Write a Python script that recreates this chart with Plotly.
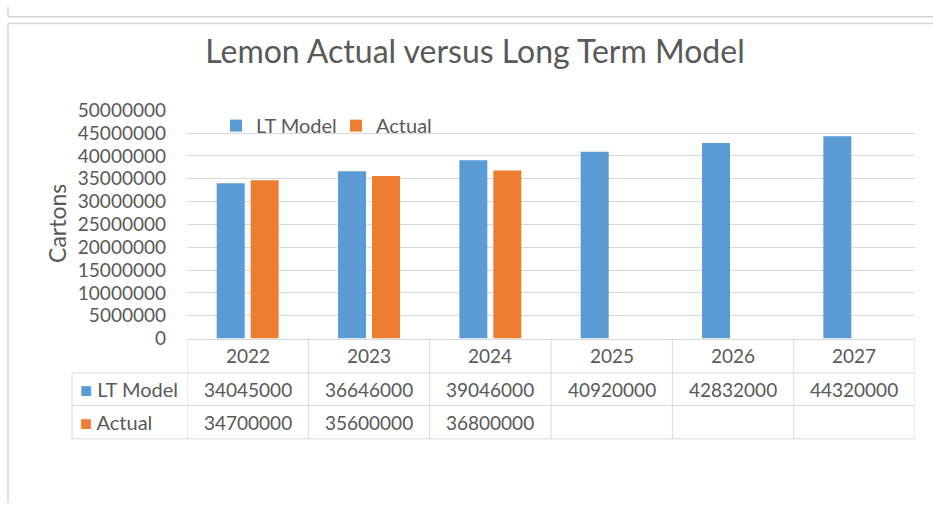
import plotly.graph_objects as go

# ---- data ----
years = ["2022", "2023", "2024", "2025", "2026", "2027"]
lt_model = [34045000, 36646000, 39046000, 40920000, 42832000, 44320000]
actual = [34700000, 35600000, 36800000, None, None, None]
y_ticks = [0, 5000000, 10000000, 15000000, 20000000, 25000000,
           30000000, 35000000, 40000000, 45000000, 50000000]

BLUE = "#5B9BD5"
ORANGE = "#ED7D31"
TXT = "#595959"
GRID = "#D9D9D9"
FONT = "Lato, 'Liberation Sans', Arial, sans-serif"

W, H = 933, 509
def px(x):
    return x / W
def py(y):
    return 1 - y / H

fig = go.Figure()
fig.add_trace(go.Bar(name="LT Model", x=years, y=lt_model, marker_color=BLUE,
                     marker_line_width=0))
fig.add_trace(go.Bar(name="Actual", x=years, y=actual, marker_color=ORANGE,
                     marker_line_width=0))

plot_left, plot_right = 187, 915
plot_top, plot_bottom = 103, 342
row1, row2, row3 = 378, 412, 447

fig.update_layout(
    width=W, height=H,
    margin=dict(l=0, r=0, t=0, b=0),
    paper_bgcolor="white", plot_bgcolor="white",
    font=dict(family=FONT, color=TXT, size=19),
    barmode="group", bargap=0.44, bargroupgap=0.176,
    showlegend=True,
    legend=dict(orientation="h", x=px(216), y=py(119), xanchor="left",
                yanchor="middle", bgcolor="rgba(0,0,0,0)",
                font=dict(size=20, color=TXT), itemwidth=30,
                entrywidth=75, entrywidthmode="pixels",
                traceorder="normal"),
    title=dict(text="Lemon Actual versus Long Term Model", x=px(475), xanchor="center",
               y=py(52), yanchor="middle", font=dict(size=32, color=TXT, family=FONT)),
    xaxis=dict(type="category", domain=[px(plot_left), px(plot_right)], range=[-0.5, 5.5],
               showticklabels=False, showgrid=False, zeroline=False,
               showline=True, linecolor=GRID, linewidth=1, ticks=""),
    yaxis=dict(domain=[py(plot_bottom), py(plot_top)], range=[0, 50000000],
               tickvals=y_ticks, ticktext=[str(v) for v in y_ticks],
               showgrid=True, gridcolor=GRID, gridwidth=1, zeroline=False,
               showline=False, ticks="", ticklabelstandoff=20,
               tickfont=dict(size=19, color=TXT)),
)

# y axis title
fig.add_annotation(text="Cartons", x=px(57), y=py(222), xref="paper", yref="paper",
                   textangle=-90, showarrow=False, font=dict(size=23, color=TXT),
                   xanchor="center", yanchor="middle")

shapes = []
line = dict(color=GRID, width=1)
# table horizontal lines
for yy in (row1, row2, row3):
    shapes.append(dict(type="line", xref="paper", yref="paper",
                       x0=px(72), x1=px(plot_right), y0=py(yy), y1=py(yy), line=line))
# table vertical lines (category boundaries)
for i in range(len(years) + 1):
    shapes.append(dict(type="line", xref="x", yref="paper",
                       x0=i - 0.5, x1=i - 0.5, y0=py(plot_bottom), y1=py(row3), line=line))
# left edge of the row-header column
shapes.append(dict(type="line", xref="paper", yref="paper",
                   x0=px(72), x1=px(72), y0=py(row1), y1=py(row3), line=line))

# outer frames
frame = dict(color="#D6D6D6", width=1.5)
shapes.append(dict(type="line", xref="paper", yref="paper",
                   x0=px(8), x1=1.01, y0=py(5), y1=py(5), line=frame))
shapes.append(dict(type="line", xref="paper", yref="paper",
                   x0=px(8), x1=px(8), y0=1.01, y1=py(5), line=frame))
shapes.append(dict(type="line", xref="paper", yref="paper",
                   x0=px(8), x1=1.01, y0=py(12), y1=py(12), line=frame))
shapes.append(dict(type="line", xref="paper", yref="paper",
                   x0=px(8), x1=px(8), y0=py(12), y1=-0.01, line=frame))
fig.update_layout(shapes=shapes)

# table header (years)
for i, yr in enumerate(years):
    fig.add_annotation(text=yr, x=i, y=py((plot_bottom + row1) / 2), xref="x",
                       yref="paper", showarrow=False, font=dict(size=19, color=TXT),
                       xanchor="center", yanchor="middle")
# table rows
rows = [("LT Model", lt_model, BLUE, (row1 + row2) / 2),
        ("Actual", actual, ORANGE, (row2 + row3) / 2)]
for name, vals, col, yc in rows:
    fig.add_annotation(text=f"<span style='color:{col}'>■</span> {name}",
                       x=px(78), y=py(yc), xref="paper", yref="paper",
                       showarrow=False, xanchor="left", yanchor="middle",
                       font=dict(size=20, color=TXT))
    for i, v in enumerate(vals):
        fig.add_annotation(text="" if v is None else str(v), x=i, y=py(yc),
                           xref="x", yref="paper", showarrow=False,
                           xanchor="center", yanchor="middle",
                           font=dict(size=19, color=TXT))

fig.write_html("out.html", config={"displayModeBar": False},
               post_script="document.body.style.margin='0';document.body.style.overflow='hidden';")
